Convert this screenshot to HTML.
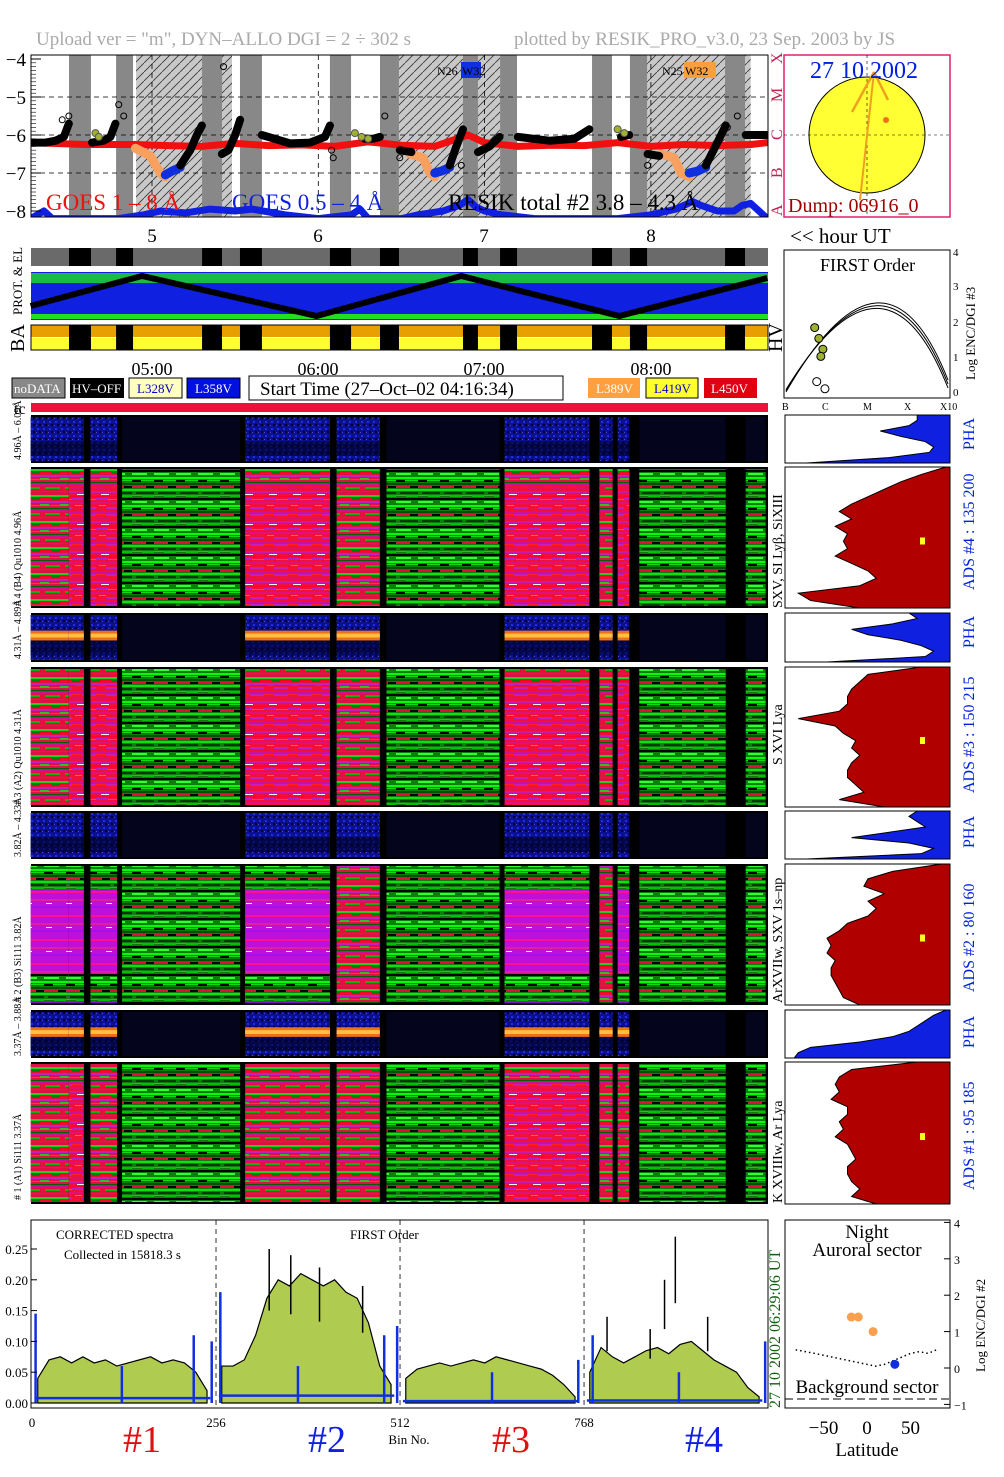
<!DOCTYPE html>
<html><head><meta charset="utf-8"><style>
html,body{margin:0;padding:0;background:#fff}
svg{display:block;font-family:"Liberation Serif",serif}
</style></head><body>
<svg id="s" width="1004" height="1477" viewBox="0 0 1004 1477" xmlns="http://www.w3.org/2000/svg">
<defs>
<pattern id="pr" width="24" height="30" patternUnits="userSpaceOnUse">
<rect width="24" height="30" fill="#f0103a"/>
<rect y="1" width="24" height="2" fill="#d0109a"/><rect x="0" y="4" width="10" height="1" fill="#ff2020"/><rect x="10" y="4" width="14" height="2" fill="#c020c0"/>
<rect y="7" width="14" height="2" fill="#e0106a"/><rect x="14" y="7" width="10" height="1" fill="#a020e0"/><rect y="11" width="24" height="2" fill="#c81ab0"/>
<rect x="5" y="14" width="8" height="1" fill="#fff"/><rect y="16" width="24" height="1" fill="#ff0030"/><rect x="0" y="18" width="12" height="2" fill="#b020d0"/>
<rect x="12" y="19" width="12" height="1" fill="#40b020"/><rect y="22" width="24" height="2" fill="#e01080"/><rect x="3" y="25" width="7" height="1" fill="#50c030"/><rect x="10" y="27" width="14" height="2" fill="#c020c0"/>
</pattern>
<pattern id="pg" width="22" height="28" patternUnits="userSpaceOnUse">
<rect width="22" height="28" fill="#0a800a"/>
<rect y="1" width="22" height="2" fill="#00ff00"/><rect x="0" y="4" width="9" height="2" fill="#000"/><rect x="9" y="4" width="13" height="1" fill="#20d020"/>
<rect y="7" width="22" height="2" fill="#005000"/><rect x="0" y="10" width="14" height="1" fill="#e01040"/><rect x="14" y="10" width="8" height="2" fill="#000"/>
<rect y="13" width="22" height="2" fill="#10e010"/><rect x="4" y="16" width="18" height="2" fill="#003800"/><rect y="19" width="10" height="1" fill="#70a000"/>
<rect x="10" y="19" width="12" height="2" fill="#00c000"/><rect y="22" width="22" height="2" fill="#000"/><rect x="0" y="25" width="15" height="2" fill="#30ff30"/>
</pattern>
<pattern id="pm" width="20" height="26" patternUnits="userSpaceOnUse">
<rect width="20" height="26" fill="#e01040"/>
<rect y="1" width="20" height="2" fill="#20d020"/><rect y="4" width="12" height="1" fill="#ff0020"/><rect x="12" y="4" width="8" height="2" fill="#008000"/>
<rect y="7" width="20" height="2" fill="#c020c0"/><rect y="10" width="9" height="2" fill="#30c020"/><rect x="9" y="11" width="11" height="1" fill="#ff3050"/>
<rect y="14" width="20" height="1" fill="#006000"/><rect y="16" width="20" height="2" fill="#d01090"/><rect x="5" y="19" width="15" height="2" fill="#10b010"/><rect y="23" width="20" height="1" fill="#ff1030"/>
</pattern>
<pattern id="pp" width="20" height="24" patternUnits="userSpaceOnUse">
<rect width="20" height="24" fill="#c010d8"/><rect y="3" width="20" height="2" fill="#ff1090"/><rect y="7" width="12" height="1" fill="#9020ff"/>
<rect y="11" width="20" height="2" fill="#e020a0"/><rect x="6" y="15" width="6" height="1" fill="#fff"/><rect y="18" width="20" height="2" fill="#a010f0"/>
</pattern>
<pattern id="pb" width="6" height="7" patternUnits="userSpaceOnUse"><rect width="6" height="7" fill="#0a1090"/><rect x="1" y="1" width="2" height="2" fill="#2030e0"/><rect x="3" y="4" width="2" height="2" fill="#000030"/><rect x="0" y="5" width="1" height="1" fill="#6040c0"/></pattern>
<pattern id="hatch" width="9" height="9" patternUnits="userSpaceOnUse"><line x1="0" y1="9" x2="9" y2="0" stroke="#333" stroke-width="0.8"/></pattern>
<clipPath id="gclip"><rect x="31" y="55" width="737" height="162"/></clipPath>
</defs>

<text x="36" y="45" font-size="19" fill="#aaa">Upload ver = "m", DYN–ALLO DGI =   2 ÷ 302 s</text>
<text x="514" y="45" font-size="19" fill="#aaa">plotted by RESIK_PRO_v3.0, 23 Sep. 2003 by JS</text>

<g id="goes"></g>
<g id="sun">
<rect x="784" y="55" width="166" height="162" fill="#fff" stroke="#e0206a" stroke-width="1.5"/>
<circle cx="867" cy="135" r="58" fill="#ffff33" stroke="#000" stroke-width="1"/>
<line x1="784" y1="135" x2="950" y2="135" stroke="#000" stroke-dasharray="3,3" stroke-width="0.6"/>
<line x1="867" y1="55" x2="867" y2="217" stroke="#000" stroke-dasharray="3,3" stroke-width="0.6"/>
<line x1="874" y1="72" x2="852" y2="112" stroke="#f0a020" stroke-width="2.5"/>
<line x1="874" y1="72" x2="888" y2="100" stroke="#f0a020" stroke-width="2.5"/>
<line x1="874" y1="72" x2="860" y2="200" stroke="#f0a020" stroke-width="2"/>
<circle cx="886" cy="120" r="3" fill="#f07020"/>
<text x="810" y="78" font-size="24" fill="#0020e0">27 10 2002</text>
<text x="788" y="212" font-size="20" fill="#a00000">Dump: 06916_0</text>
</g>

<g font-size="19" text-anchor="middle">
<text x="152" y="242">5</text><text x="318" y="242">6</text><text x="484" y="242">7</text><text x="651" y="242">8</text>
</g>
<text x="790" y="243" font-size="21">&lt;&lt; hour UT</text>

<g id="prot"></g>
<text x="22" y="315" font-size="13" transform="rotate(-90 22 315)">PROT. &amp; EL</text>
<text x="24" y="352" font-size="20" transform="rotate(-90 24 352)">BA</text>
<text x="782" y="352" font-size="20" transform="rotate(-90 782 352)">HV</text>

<g font-size="18" text-anchor="middle">
<text x="152" y="375">05:00</text><text x="318" y="375">06:00</text><text x="484" y="375">07:00</text><text x="651" y="375">08:00</text>
</g>
<g font-size="13">
<rect x="12" y="378" width="53" height="20" fill="#888" stroke="#000"/><text x="14" y="393" fill="#fff">noDATA</text>
<rect x="70" y="378" width="54" height="20" fill="#000"/><text x="72" y="393" fill="#fff">HV–OFF</text>
<rect x="129" y="378" width="53" height="20" fill="#ffffc0" stroke="#000"/><text x="137" y="393" fill="#00c">L328V</text>
<rect x="187" y="378" width="53" height="20" fill="#0010e0" stroke="#000"/><text x="195" y="393" fill="#fff">L358V</text>
<rect x="249" y="376" width="314" height="24" fill="#fff" stroke="#000"/><text x="260" y="395" font-size="19" fill="#000">Start Time (27–Oct–02 04:16:34)</text>
<rect x="588" y="378" width="52" height="20" fill="#ffa040"/><text x="596" y="393" fill="#fff">L389V</text>
<rect x="646" y="378" width="52" height="20" fill="#ffff30" stroke="#000"/><text x="654" y="393" fill="#00c">L419V</text>
<rect x="704" y="378" width="53" height="20" fill="#e00010"/><text x="711" y="393" fill="#fff">L450V</text>
</g>

<g id="first">
<rect x="784" y="250" width="166" height="148" fill="#fff" stroke="#000"/>
<text x="820" y="271" font-size="18">FIRST Order</text>
<g font-size="10"><text x="782" y="410">B</text><text x="822" y="410">C</text><text x="863" y="410">M</text><text x="904" y="410">X</text><text x="940" y="410">X10</text></g>
<g font-size="11"><text x="953" y="256">4</text><text x="953" y="290">3</text><text x="953" y="326">2</text><text x="953" y="361">1</text><text x="953" y="396">0</text></g>
<text x="975" y="380" font-size="13" transform="rotate(-90 975 380)">Log ENC/DGI #3</text>
</g>

<text x="14" y="414" font-size="16">tc</text>
<rect x="31" y="403" width="737" height="9" fill="#f0103a"/>

<g id="spec"></g>
<g id="hist"></g>

<g font-size="10">
<text x="21" y="460" transform="rotate(-90 21 460)">4.96Å – 6.09Å</text>
<text x="21" y="606" transform="rotate(-90 21 606)"># 4 (B4) Qu1010 4.96Å</text>
<text x="21" y="659" transform="rotate(-90 21 659)">4.31Å – 4.89Å</text>
<text x="21" y="805" transform="rotate(-90 21 805)"># 3 (A2) Qu1010 4.31Å</text>
<text x="21" y="857" transform="rotate(-90 21 857)">3.82Å – 4.33Å</text>
<text x="21" y="1002" transform="rotate(-90 21 1002)"># 2 (B3) Si111 3.82Å</text>
<text x="21" y="1056" transform="rotate(-90 21 1056)">3.37Å – 3.88Å</text>
<text x="21" y="1200" transform="rotate(-90 21 1200)"># 1 (A1) Si111 3.37Å</text>
</g>
<g font-size="14">
<text x="782" y="608" transform="rotate(-90 782 608)">SXV, SI Lyβ, SiXIII</text>
<text x="782" y="765" transform="rotate(-90 782 765)">S XVI Lya</text>
<text x="782" y="1003" transform="rotate(-90 782 1003)">ArXVIIw, SXV 1s–np</text>
<text x="782" y="1203" transform="rotate(-90 782 1203)">K XVIIIw, Ar Lya</text>
</g>
<g font-size="16" fill="#0020e0">
<text x="974" y="450" transform="rotate(-90 974 450)">PHA</text>
<text x="974" y="590" transform="rotate(-90 974 590)">ADS #4 :  135 200</text>
<text x="974" y="648" transform="rotate(-90 974 648)">PHA</text>
<text x="974" y="793" transform="rotate(-90 974 793)">ADS #3 :  150 215</text>
<text x="974" y="848" transform="rotate(-90 974 848)">PHA</text>
<text x="974" y="992" transform="rotate(-90 974 992)">ADS #2 :  80 160</text>
<text x="974" y="1048" transform="rotate(-90 974 1048)">PHA</text>
<text x="974" y="1190" transform="rotate(-90 974 1190)">ADS #1 :  95 185</text>
</g>

<g id="bspec"></g>
<g id="scat"></g>
<g font-size="38" text-anchor="middle">
<text x="142" y="1452" fill="#e01010">#1</text><text x="327" y="1452" fill="#1020e0">#2</text>
<text x="511" y="1452" fill="#e01010">#3</text><text x="704" y="1452" fill="#1020e0">#4</text>
</g>
<text x="409" y="1444" font-size="13" text-anchor="middle">Bin No.</text>
</svg>
<script>
// ---------- data ----------
const gapsH = [[4.501,4.633],[4.784,4.886],[5.301,5.421],[5.529,5.661],[6.070,6.197],[6.371,6.485],[6.870,6.960],[7.093,7.195],[7.646,7.766],[7.874,7.977],[8.446,8.566]];
const hatchH = [[4.904,5.481],[6.485,7.093],[7.880,8.600]];
const goesLongH = [4.27,4.6,4.9,5.1,5.3,5.5,5.7,5.9,6.1,6.3,6.5,6.7,6.8,6.9,7.0,7.2,7.4,7.6,7.8,8.0,8.2,8.4,8.6,8.7];
const goesLongV = [-6.2,-6.25,-6.25,-6.28,-6.3,-6.22,-6.28,-6.26,-6.3,-6.18,-6.27,-6.3,-6.15,-6.0,-6.2,-6.3,-6.27,-6.28,-6.2,-6.3,-6.25,-6.28,-6.25,-6.2];
const goesShortH = [4.27,4.35,4.4,4.6,4.8,4.95,5.05,5.2,5.35,5.5,5.6,5.8,6.0,6.2,6.25,6.3,6.5,6.6,6.75,6.85,6.9,6.95,7.0,7.1,7.3,7.5,7.8,8.0,8.15,8.25,8.3,8.4,8.5,8.55,8.6,8.7];
const goesShortV = [-8.2,-8.0,-8.2,-8.2,-8.2,-8.1,-8.0,-8.05,-7.95,-8.0,-7.95,-8.1,-8.2,-8.1,-7.95,-8.2,-8.2,-8.1,-8.0,-7.85,-7.7,-7.9,-8.0,-8.1,-8.2,-8.2,-8.2,-8.1,-7.95,-7.75,-7.85,-8.0,-8.0,-7.85,-7.8,-8.2];
const resikSegs = [
 [[4.27,4.36,4.42,4.47,4.50],[-6.2,-6.2,-6.15,-6.05,-5.7]],
 [[4.64,4.71,4.75,4.78],[-6.2,-6.15,-6.05,-5.7]],
 [[5.17,5.23,5.27,5.30],[-6.8,-6.4,-6.0,-5.75]],
 [[5.42,5.46,5.50,5.53],[-6.5,-6.4,-6.0,-5.6]],
 [[5.66,5.83,5.95,6.04,6.07],[-6.0,-6.22,-6.2,-6.05,-5.75]],
 [[6.28,6.33,6.37],[-6.1,-6.1,-6.05]],
 [[6.49,6.56],[-6.4,-6.45]],
 [[6.79,6.83,6.87],[-6.8,-6.3,-5.85]],
 [[6.96,7.03,7.09],[-6.45,-6.3,-6.05]],
 [[7.20,7.39,7.54,7.63],[-6.05,-6.15,-6.1,-5.85]],
 [[7.82,7.87],[-6.05,-6.0]],
 [[7.98,8.05],[-6.5,-6.55]],
 [[8.33,8.40,8.45],[-6.8,-6.2,-5.75]],
 [[8.57,8.70],[-6.0,-6.0]]
];
const orangeSegs = [[[4.90,4.99,5.05,5.08],[-6.35,-6.55,-7.0,-7.1]],[[6.55,6.63,6.67,6.70],[-6.5,-6.6,-7.0,-7.1]],[[8.06,8.14,8.18,8.23],[-6.5,-6.6,-7.0,-7.1]]];
const blueSegs = [[[5.08,5.12,5.17],[-7.05,-6.95,-6.85]],[[6.70,6.74,6.79],[-7.0,-6.95,-6.85]],[[8.23,8.28,8.33],[-7.0,-6.95,-6.85]]];
const greenPtsH = [4.66,4.68,6.22,6.26,6.30,7.80,7.84];
const greenPtsV = [-5.95,-6.05,-5.95,-6.05,-6.1,-5.85,-5.95];
const circPtsH = [4.46,4.50,4.80,4.83,5.43,6.08,6.09,6.40,6.49,6.86,7.98,8.46,8.52];
const circPtsV = [-5.6,-5.5,-5.2,-5.5,-4.2,-6.4,-6.6,-5.5,-6.6,-6.8,-6.8,-5.8,-5.5];

const specSegs = [[4.27,4.50],[4.50,4.59],[4.63,4.79],[4.82,5.53],[5.56,6.07],[6.11,6.37],[6.41,7.09],[7.12,7.63],[7.69,7.77],[7.80,7.87],[7.93,8.45],[8.57,8.69]];
const kinds4 = ['m','r','r','g','r','m','g','r','m','r','g','g'];
const kinds3 = ['m','r','r','g','r','m','g','r','m','r','g','g'];
const kinds2 = ['p','p','p','g','p','m','g','p','m','p','g','g'];
const kinds1 = ['m','r','m','g','m','m','g','r','m','m','g','g'];

const pha4 = [3.2,3.2,3.0,2.3,2.8,3.4,3.6,3.5,2.5,0.5];
const ads4 = [3.9,3.3,2.8,2.4,2.0,1.6,1.3,1.6,1.2,1.5,1.4,1.5,1.2,1.6,2.0,2.2,1.8,0.3,0.6,1.8];
const pha3 = [3.0,3.2,2.6,1.6,2.0,2.8,3.3,3.6,3.4,1.0];
const ads3 = [3.3,2.0,1.8,1.6,1.5,1.5,1.3,0.3,1.2,1.4,1.7,1.6,1.8,1.6,1.5,1.5,1.7,1.9,1.3,2.4];
const pha2 = [3.2,3.0,3.2,3.4,2.5,1.6,3.0,3.6,3.3,0.5];
const ads2 = [3.8,2.6,2.0,1.9,2.4,2.0,2.2,2.0,1.5,1.3,1.0,1.1,1.0,1.2,1.1,1.1,1.2,1.3,1.4,1.8];
const pha1 = [3.9,3.6,3.4,3.2,3.0,2.6,1.8,0.6,0.3,0.2];
const ads1 = [3.2,1.6,1.3,1.2,1.3,1.1,1.5,1.5,1.3,1.4,1.2,1.5,1.6,1.7,1.5,1.5,1.6,1.8,1.6,2.2];

const specStart = [8,264,520,776];
const spec1 = [0.04,0.07,0.075,0.065,0.075,0.065,0.07,0.06,0.065,0.07,0.075,0.065,0.07,0.065,0.05,0.02];
const spec2 = [0.06,0.06,0.07,0.11,0.17,0.20,0.19,0.21,0.20,0.19,0.20,0.18,0.17,0.13,0.06,0.03];
const spec3 = [0.04,0.055,0.06,0.065,0.06,0.065,0.07,0.065,0.075,0.07,0.065,0.06,0.055,0.045,0.03,0.01];
const spec4 = [0.05,0.09,0.075,0.065,0.075,0.085,0.09,0.08,0.095,0.10,0.085,0.07,0.06,0.05,0.025,0.01];
const specPeakBins = [330,360,400,460,800,860,880,895,940];
const specPeakVals = [0.25,0.24,0.22,0.19,0.14,0.12,0.20,0.27,0.14];
const bgBase = [0.008,0.012,0.003,0.004];
const bgSpikeBins = [5,125,225,250,262,370,490,508,640,760,780,900,1020];
const bgSpikeVals = [0.145,0.06,0.11,0.10,0.18,0.06,0.11,0.125,0.05,0.07,0.11,0.05,0.10];
const yTicks = [0,0.05,0.10,0.15,0.20,0.25];
const yTickLabels = ['0.00','0.05','0.10','0.15','0.20','0.25'];
const binTicks = [0,256,512,768];

const latOrange = [-18,-10,7];
const encOrange = [1.4,1.4,1.0];
const latBlue = [32];
const encBlue = [0.1];
const latDots = [-82,-60,-40,-20,0,10,20,30,40,50,60,70,80];
const encDots = [0.5,0.4,0.3,0.2,0.1,0.05,0.1,0.2,0.3,0.4,0.45,0.4,0.5];

// ---------- helpers ----------
const NS='http://www.w3.org/2000/svg';
function mk(parent,tag,attrs){const e=document.createElementNS(NS,tag);for(const k in attrs)e.setAttribute(k,attrs[k]);parent.appendChild(e);return e;}
const xT = h => 152 + (h-5)*166.3;
const gY = v => 59 + (-4 - v)*38;
const X0=31, X1=768;

// ---------- GOES panel ----------
const G=document.getElementById('goes');
mk(G,'rect',{x:X0,y:55,width:X1-X0,height:162,fill:'#fff'});
const GC=mk(G,'g',{'clip-path':'url(#gclip)'});
hatchH.forEach(r=>{const a=mk(GC,'rect',{x:xT(r[0]),y:55,width:xT(r[1])-xT(r[0]),height:162,fill:'#c8c8c8'});
 mk(GC,'rect',{x:xT(r[0]),y:55,width:xT(r[1])-xT(r[0]),height:162,fill:'url(#hatch)'});});
gapsH.forEach(r=>{const a=mk(GC,'rect',{x:xT(r[0]),y:55,width:xT(r[1])-xT(r[0]),height:162,fill:'#888'});});
[-5,-6,-7].forEach(v=>mk(GC,'line',{x1:X0,x2:X1,y1:gY(v),y2:gY(v),stroke:'#000','stroke-dasharray':'5,4','stroke-width':0.8}));
[5,6,7,8].forEach(h=>mk(GC,'line',{x1:xT(h),x2:xT(h),y1:55,y2:217,stroke:'#000','stroke-dasharray':'5,4','stroke-width':0.8}));
function pl(hs,vs,col,w,name){const p=mk(GC,'polyline',{points:hs.map((h,i)=>xT(h)+','+gY(vs[i])).join(' '),fill:'none',stroke:col,'stroke-width':w,'stroke-linejoin':'round','stroke-linecap':'round'});}
pl(goesLongH,goesLongV,'#f01010',7,'goes-1-8-line');
pl(goesShortH,goesShortV,'#1020e0',7,'goes-05-4-line');
orangeSegs.forEach(s=>pl(s[0],s[1],'#f8a060',9,'resik-orange-segment'));
blueSegs.forEach(s=>pl(s[0],s[1],'#1030e0',9,'resik-blue-segment'));
resikSegs.forEach(s=>pl(s[0],s[1],'#000',8,'resik-total-segment'));
greenPtsH.forEach((h,i)=>{const c=mk(GC,'circle',{cx:xT(h),cy:gY(greenPtsV[i]),r:3.5,fill:'#a0b030',stroke:'#555'});});
circPtsH.forEach((h,i)=>{const c=mk(GC,'circle',{cx:xT(h),cy:gY(circPtsV[i]),r:3,fill:'none',stroke:'#000'});});
[['GOES 1 – 8 Å',46,'#f01010'],['GOES 0.5 – 4 Å',232,'#1020e0'],['RESIK total #2  3.8 – 4.3 Å',448,'#000']].forEach(a=>{const t=mk(G,'text',{x:a[1],y:210,'font-size':23,fill:a[2]});t.textContent=a[0];});
mk(G,'rect',{x:X0,y:55,width:X1-X0,height:162,fill:'none',stroke:'#000'});
for(let v=-4;v>=-8;v--){mk(G,'line',{x1:X0,x2:X0+10,y1:gY(v),y2:gY(v),stroke:'#000'});const t=mk(G,'text',{x:26,y:gY(v)+7,'font-size':19,'text-anchor':'end'});t.textContent='−'+(-v);}
for(let v=-4;v>-8;v-=0.1){mk(G,'line',{x1:X0,x2:X0+5,y1:gY(v),y2:gY(v),stroke:'#000','stroke-width':0.6});}
[['N26',437],['N25',662]].forEach(a=>{const t=mk(G,'text',{x:a[1],y:75,'font-size':12});t.textContent=a[0];});
mk(G,'rect',{x:461,y:62,width:20,height:16,fill:'#1030e0'});mk(G,'rect',{x:684,y:62,width:32,height:16,fill:'#f8a040'});
{let t=mk(G,'text',{x:462,y:75,'font-size':12});t.textContent='W32';t=mk(G,'text',{x:685,y:75,'font-size':12});t.textContent='W32';}
['A','B','C','M','X'].forEach((l,i)=>{const y=gY(-8+i)+5;const t=mk(G,'text',{x:782,y:y,'font-size':16,fill:'#c02050',transform:'rotate(-90 782 '+y+')'});t.textContent=l;});

// ---------- PROT / EL / BA ----------
const P=document.getElementById('prot');
mk(P,'rect',{x:X0,y:248,width:X1-X0,height:18,fill:'#6a6a6a'});
gapsH.forEach(r=>mk(P,'rect',{x:xT(r[0]),y:248,width:xT(r[1])-xT(r[0]),height:18,fill:'#000'}));
mk(P,'rect',{x:X0,y:272,width:X1-X0,height:48,fill:'#1020e0'});
mk(P,'rect',{x:X0,y:273,width:X1-X0,height:10,fill:'#20e020',opacity:0.8});
mk(P,'rect',{x:X0,y:314,width:X1-X0,height:5,fill:'#20e020'});
const zig=[4.27,4.94,5.99,6.86,7.81,8.70];const zv=[0.25,1,0,1,0,0.95];
mk(P,'polyline',{points:zig.map((h,i)=>xT(h)+','+(276+(1-zv[i])*40)).join(' '),fill:'none',stroke:'#000','stroke-width':6});
mk(P,'rect',{x:X0,y:325,width:X1-X0,height:12,fill:'#e8a000'});
mk(P,'rect',{x:X0,y:338,width:X1-X0,height:12,fill:'#ffff30'});
gapsH.forEach(r=>{const b=mk(P,'rect',{x:xT(r[0]),y:325,width:xT(r[1])-xT(r[0]),height:25,fill:'#000'});});
mk(P,'rect',{x:X0,y:325,width:X1-X0,height:25,fill:'none',stroke:'#000'});

// ---------- Spectrograms ----------
const S=document.getElementById('spec');
const panels=[[415,48,467,141,kinds4,false],[613,49,667,140,kinds3,true],[811,48,864,141,kinds2,false],[1010,48,1062,142,kinds1,true]];
const pat={r:'url(#pr)',g:'url(#pg)',m:'url(#pm)',p:'url(#pp)'};
panels.forEach((pn,pi)=>{
 const [py,ph,by,bh,kinds,orange]=pn;
 mk(S,'rect',{x:X0,y:py,width:X1-X0,height:ph,fill:'#000'});
 mk(S,'rect',{x:X0,y:by,width:X1-X0,height:bh,fill:'#000'});
 specSegs.forEach((sg,i)=>{
  const x=xT(sg[0]),w=xT(sg[1])-xT(sg[0]),k=kinds[i];
  const c=mk(S,'rect',{x:x,y:by+2,width:w,height:bh-4,fill:pat[k]});
  
  
  if(k==='p'){mk(S,'rect',{x:x,y:by+2,width:w,height:bh*0.17,fill:'url(#pg)'});mk(S,'rect',{x:x,y:by+bh*0.78,width:w,height:bh*0.2,fill:'url(#pg)'});}
  if(k==='r'&&pi!==2){mk(S,'rect',{x:x,y:by+2,width:w,height:bh*0.12,fill:'url(#pm)'});}
  const b=mk(S,'rect',{x:x,y:py+2,width:w,height:ph-4,fill:k==='g'?'#04041c':'url(#pb)'});
  
  
  if(k!=='g'){mk(S,'rect',{x:x,y:py+ph*0.55,width:w,height:ph*0.3,fill:'#000020',opacity:0.6});}
  if(orange&&k!=='g'){mk(S,'rect',{x:x,y:py+ph*0.36,width:w,height:ph*0.2,fill:'#f07018'});mk(S,'rect',{x:x,y:py+ph*0.42,width:w,height:ph*0.08,fill:'#ffc040'});}
 });
});

// ---------- histograms ----------
const Hh=document.getElementById('hist');
const hx = u => 786 + u*41;
const hists=[[415,48,pha4,'#1020e0'],[467,141,ads4,'#b00000'],[613,49,pha3,'#1020e0'],[667,140,ads3,'#b00000'],[811,48,pha2,'#1020e0'],[864,141,ads2,'#b00000'],[1010,48,pha1,'#1020e0'],[1062,142,ads1,'#b00000']];
hists.forEach(hd=>{
 const [y,h,vals,col]=hd;
 mk(Hh,'rect',{x:785,y:y,width:165,height:h,fill:'#fff',stroke:'#000'});
 const n=vals.length;let pts=hx(4)+','+y+' ';
 vals.forEach((v,i)=>{pts+=hx(v)+','+(y+i*h/(n-1))+' ';});
 pts+=hx(4)+','+(y+h);
 const p=mk(Hh,'polygon',{points:pts,fill:col,stroke:'#000','stroke-width':1});
 
 
 if(col==='#b00000'){mk(Hh,'rect',{x:920,y:y+h*0.5,width:5,height:7,fill:'#ffff20'});}
});

// ---------- bottom spectrum ----------
const B=document.getElementById('bspec');
const bx = b => 32 + b*0.7188;
const by = v => 1403 - v*616;
mk(B,'rect',{x:X0,y:1220,width:X1-X0,height:188,fill:'#fff',stroke:'#000'});
[spec1,spec2,spec3,spec4].forEach((arr,si)=>{
 const s0=specStart[si];let pts=bx(s0)+','+by(0)+' ';
 arr.forEach((v,i)=>{pts+=bx(s0+i*15.7)+','+by(v)+' ';});
 pts+=bx(s0+15*15.7)+','+by(0);
 const p=mk(B,'polygon',{points:pts,fill:'#b0cc50',stroke:'#000','stroke-width':1.2});
 
 
});
specPeakBins.forEach((b,i)=>{const l=mk(B,'line',{x1:bx(b),x2:bx(b),y1:by(specPeakVals[i]*0.6),y2:by(specPeakVals[i]),stroke:'#000','stroke-width':1.5});});
bgBase.forEach((v,si)=>{const l=mk(B,'line',{x1:bx(specStart[si]-4),x2:bx(specStart[si]+240),y1:by(v),y2:by(v),stroke:'#1030e0','stroke-width':2.5});});
bgSpikeBins.forEach((b,i)=>{const l=mk(B,'line',{x1:bx(b),x2:bx(b),y1:by(0),y2:by(bgSpikeVals[i]),stroke:'#1030e0','stroke-width':2.5});});
[256,512,768].forEach(b=>mk(B,'line',{x1:bx(b),x2:bx(b),y1:1220,y2:1408,stroke:'#000','stroke-dasharray':'5,4','stroke-width':0.8}));
yTicks.forEach((v,i)=>{mk(B,'line',{x1:X0,x2:X0+6,y1:by(v),y2:by(v),stroke:'#000'});const t=mk(B,'text',{x:28,y:by(v)+5,'font-size':13,'text-anchor':'end'});t.textContent=yTickLabels[i];});
binTicks.forEach(b=>{const t=mk(B,'text',{x:bx(b),y:1427,'font-size':13,'text-anchor':'middle'});t.textContent=String(b);});
{let t=mk(B,'text',{x:56,y:1239,'font-size':13});t.textContent='CORRECTED spectra';
 t=mk(B,'text',{x:64,y:1259,'font-size':13});t.textContent='Collected in 15818.3 s';
 t=mk(B,'text',{x:350,y:1239,'font-size':13});t.textContent='FIRST Order';
 t=mk(B,'text',{x:780,y:1408,'font-size':16,fill:'#106010',transform:'rotate(-90 780 1408)'});t.textContent='27 10 2002      06:29:06 UT';}

// ---------- latitude scatter ----------
const C=document.getElementById('scat');
const lx = l => 867 + l*0.87;
const ly = e => 1368 - e*36.4;
mk(C,'rect',{x:785,y:1220,width:165,height:188,fill:'#fff',stroke:'#000'});
mk(C,'polyline',{points:latDots.map((l,i)=>lx(l)+','+ly(encDots[i])).join(' '),fill:'none',stroke:'#000','stroke-dasharray':'1.5,3','stroke-width':1.5});
mk(C,'line',{x1:785,x2:950,y1:ly(-0.85),y2:ly(-0.85),stroke:'#000','stroke-dasharray':'8,4'});
latOrange.forEach((l,i)=>{const c=mk(C,'circle',{cx:lx(l),cy:ly(encOrange[i]),r:4.5,fill:'#f8a050'});});
latBlue.forEach((l,i)=>{const c=mk(C,'circle',{cx:lx(l),cy:ly(encBlue[i]),r:4.5,fill:'#1030e0'});});
[-1,0,1,2,3,4].forEach(e=>{mk(C,'line',{x1:944,x2:950,y1:ly(e),y2:ly(e),stroke:'#000'});const t=mk(C,'text',{x:954,y:ly(e)+5,'font-size':12});t.textContent=e<0?'−1':String(e);});
[-50,0,50].forEach(l=>{const t=mk(C,'text',{x:lx(l),y:1434,'font-size':19,'text-anchor':'middle'});t.textContent=l<0?'−50':String(l);});
{let t=mk(C,'text',{x:867,y:1238,'font-size':19,'text-anchor':'middle'});t.textContent='Night';
 t=mk(C,'text',{x:867,y:1256,'font-size':19,'text-anchor':'middle'});t.textContent='Auroral sector';
 t=mk(C,'text',{x:867,y:1393,'font-size':19,'text-anchor':'middle'});t.textContent='Background sector';
 t=mk(C,'text',{x:867,y:1456,'font-size':19,'text-anchor':'middle'});t.textContent='Latitude';
 t=mk(C,'text',{x:985,y:1372,'font-size':13,transform:'rotate(-90 985 1372)'});t.textContent='Log ENC/DGI #2';}

// ---------- FIRST order arcs ----------
const F=document.getElementById('first');
[0,4,8].forEach(d=>{mk(F,'path',{d:`M786 ${392-d*0.3} Q 885 ${220+d} 948 ${380+d}`,fill:'none',stroke:'#000','stroke-width':1});});
const foH=[0.7,0.8,0.9,0.85,0.75,0.95];const foV=[1.9,1.6,1.3,1.1,0.4,0.2];
foH.forEach((u,i)=>{const c=mk(F,'circle',{cx:786+u*41,cy:396-foV[i]*36,r:4,fill:i<4?'#a0b030':'#fff',stroke:'#000'});});
</script>
</body></html>
